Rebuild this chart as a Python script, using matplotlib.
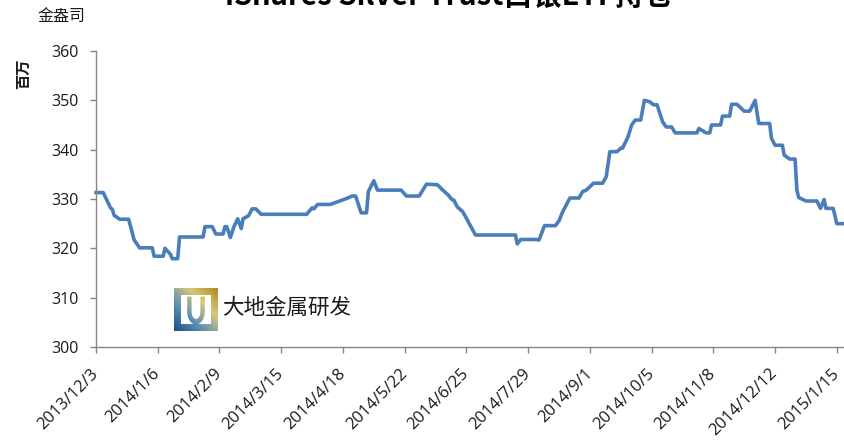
import numpy as np
import pandas as pd
import matplotlib
matplotlib.use("Agg")
import matplotlib.pyplot as plt
from matplotlib.patches import PathPatch
from matplotlib.path import Path
from matplotlib.colors import LinearSegmentedColormap

plt.rcParams['font.family'] = ['Open Sans', 'Noto Sans CJK SC', 'DejaVu Sans']

# ---- data ----
start_date = "2013-12-03"
day_offsets = [0, 4, 8, 9, 10, 13, 18, 21, 24, 31, 32, 37, 38, 41, 42, 45, 46, 59, 60, 64,
               66, 70, 71, 72, 74, 76, 78, 80, 81, 84, 86, 88, 91, 116, 119, 120, 122, 129,
               138, 141, 143, 146, 149, 150, 153, 155, 168, 171, 178, 182, 188, 191, 194,
               196, 197, 199, 202, 204, 206, 209, 231, 232, 234, 242, 244, 247, 253, 255,
               257, 259, 261, 266, 268, 270, 274, 279, 281, 283, 287, 289, 290, 293, 295,
               297, 300, 302, 305, 307, 309, 312, 314, 317, 319, 331, 332, 336, 338, 339,
               344, 345, 349, 350, 353, 357, 360, 363, 365, 371, 372, 374, 378, 379, 382,
               385, 386, 387, 391, 397, 399, 401, 402, 406, 408, 412]
holdings = [331.3, 331.3, 328.2, 327.9, 326.7, 325.9, 325.9, 321.7, 320.1, 320.1, 318.4, 318.4,
            320.0, 318.8, 317.9, 317.9, 322.3, 322.3, 324.4, 324.4, 322.9, 322.9, 324.4, 324.4,
            322.2, 324.4, 326.0, 324.0, 326.0, 326.6, 328.0, 328.0, 326.9, 326.9, 328.2, 328.0,
            328.9, 328.9, 330.1, 330.6, 330.6, 327.2, 327.2, 331.5, 333.7, 331.8, 331.8, 330.6,
            330.6, 333.0, 332.9, 331.8, 330.8, 329.9, 329.8, 328.4, 327.4, 326.1, 324.7, 322.7,
            322.7, 320.9, 321.8, 321.8, 321.7, 324.6, 324.6, 325.6, 327.4, 328.8, 330.2, 330.2,
            331.5, 331.8, 333.2, 333.2, 334.5, 339.6, 339.6, 340.3, 340.3, 342.6, 345.0, 346.0,
            346.0, 350.0, 349.7, 349.1, 349.1, 345.7, 344.6, 344.6, 343.4, 343.4, 344.3, 343.4,
            343.4, 345.0, 345.0, 346.8, 346.8, 349.2, 349.2, 347.8, 347.8, 350.0, 345.3, 345.3,
            342.3, 340.9, 340.9, 338.9, 338.1, 338.1, 331.8, 330.3, 329.6, 329.6, 328.1, 329.9,
            328.1, 328.1, 325.0, 325.0]
tick_labels = ["2013/12/3", "2014/1/6", "2014/2/9", "2014/3/15", "2014/4/18", "2014/5/22",
               "2014/6/25", "2014/7/29", "2014/9/1", "2014/10/5", "2014/11/8", "2014/12/12",
               "2015/1/15"]
y_ticks = [300, 310, 320, 330, 340, 350, 360]

title = "iShares Silver Trust白银ETF持仓"
unit_label = "金盎司"
y_label = "百万"
watermark = "大地金属研发"

# ---- figure ----
W, H = 845, 443
fig = plt.figure(figsize=(W / 100, H / 100), dpi=100)
ax = fig.add_axes([96 / W, 1 - 347 / H, (W - 96) / W, (347 - 51) / H])

t0 = pd.Timestamp(start_date)
dates = t0 + pd.to_timedelta(day_offsets, unit="D")
ax.plot(dates, holdings, color="#4a7ebb", lw=2.6, solid_joinstyle="round", clip_on=False)

tick_dates = [pd.Timestamp(s.replace("/", "-")) for s in tick_labels]
ax.set_xticks(tick_dates)
ax.set_xticklabels(tick_labels, rotation=45, ha="right", va="center", rotation_mode="anchor",
                   fontsize=12, color="#1a1a1a")
ax.set_xlim(t0, t0 + pd.Timedelta(days=412.5))
ax.set_ylim(300, 360)
ax.set_yticks(y_ticks)
ax.set_yticklabels([str(v) for v in y_ticks], fontsize=11.5, color="#1a1a1a")

for s in ["top", "right"]:
    ax.spines[s].set_visible(False)
for s in ["left", "bottom"]:
    ax.spines[s].set_color("#868686")
    ax.spines[s].set_linewidth(1.0)
ax.tick_params(axis="both", direction="out", length=4.5, width=1.0, color="#868686")
ax.tick_params(axis="y", pad=8)
ax.tick_params(axis="x", pad=13)

# texts
fig.text(449 / W, 1 - 5 / H, title, ha="center", va="baseline", fontsize=21,
         fontweight="bold", family=["Noto Sans CJK SC", "DejaVu Sans"], color="#000000")
fig.text(61 / W, 1 - 17 / H, unit_label, ha="center", va="center", fontsize=11.5,
         family=["Noto Sans CJK SC"], color="#1a1a1a")
fig.text(23 / W, 1 - 74 / H, y_label, ha="center", va="center", rotation=90, fontsize=11,
         fontweight="bold", family=["Noto Sans CJK SC"], color="#1a1a1a")

# watermark logo
lax = fig.add_axes([174 / W, 1 - 331 / H, 44 / W, 43 / H])
lax.set_xlim(0, 1)
lax.set_ylim(0, 1)
lax.axis("off")
gx, gy = np.meshgrid(np.linspace(0, 1, 64), np.linspace(0, 1, 64))
g = (gx + gy) / 2
cmap = LinearSegmentedColormap.from_list("logo", ["#1d4f80", "#5b8fb5", "#d8c878", "#b08a1c"])
img = lax.imshow(g, extent=[0, 1, 0, 1], origin="lower", cmap=cmap, aspect="auto")
outer = [(0, 0), (1, 0), (1, 1), (0, 1), (0, 0)]
inner = [(0.16, 0.16), (0.16, 0.84), (0.84, 0.84), (0.84, 0.16), (0.16, 0.16)]
codes = [Path.MOVETO] + [Path.LINETO] * 3 + [Path.CLOSEPOLY] + [Path.MOVETO] + [Path.LINETO] * 3 + [Path.CLOSEPOLY]
frame = PathPatch(Path(outer + inner, codes), facecolor="none", edgecolor="none")
lax.add_patch(frame)
img.set_clip_path(frame)
img2 = lax.imshow(g, extent=[0, 1, 0, 1], origin="lower", cmap=cmap, aspect="auto")
th = np.linspace(np.pi, 2 * np.pi, 40)
cx = 0.5 + 0.2 * np.cos(th)
cy = 0.45 + 0.3 * np.sin(th)
cverts = [(0.3, 0.8)] + list(zip(cx, cy)) + [(0.7, 0.8), (0.6, 0.8)] + \
    list(zip(0.5 + 0.1 * np.cos(th[::-1]), 0.45 + 0.17 * np.sin(th[::-1]))) + [(0.4, 0.8), (0.3, 0.8)]
cpatch = PathPatch(Path(cverts), facecolor="none", edgecolor="none")
lax.add_patch(cpatch)
img2.set_clip_path(cpatch)

fig.text(222 / W, 1 - 308 / H, watermark, ha="left", va="center", fontsize=15.5,
         family=["Noto Sans CJK SC"], color="#1a1a1a")

fig.savefig("out.png", dpi=100)
